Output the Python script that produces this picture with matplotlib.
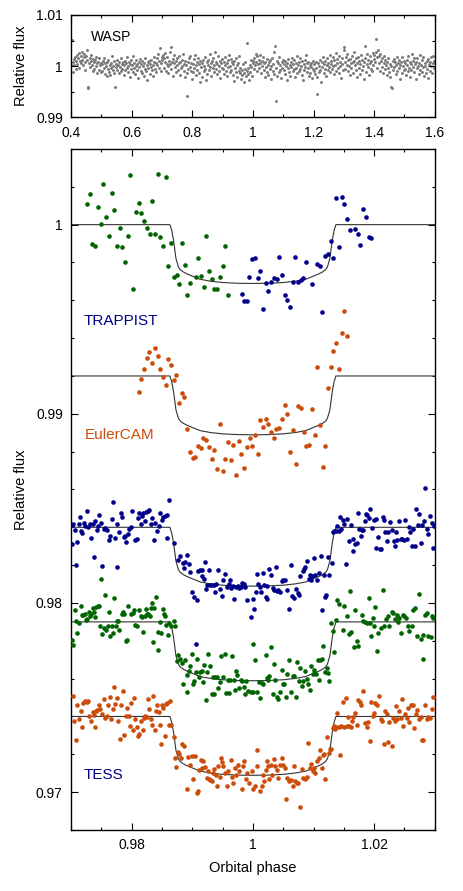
import matplotlib.pyplot as plt
import numpy as np
from matplotlib.ticker import FuncFormatter

plt.rcParams["font.family"] = ["Liberation Sans", "DejaVu Sans"]

# ---- WASP panel: phase and flux deviation (units of 1e-4) ----
wasp_phase = [
    0.401, 0.403, 0.405, 0.407, 0.409, 0.411, 0.413, 0.415, 0.417, 0.419, 0.421, 0.423, 0.425, 0.427, 0.429, 0.431, 0.433, 0.435, 0.437, 0.439, 0.441, 0.443, 0.445, 0.447, 0.449, 0.451, 0.453, 0.455, 0.457, 0.459, 0.461, 0.463, 0.465, 0.467, 0.469, 0.471, 0.473, 0.475, 0.477, 0.479, 0.481, 0.483, 0.485, 0.487, 0.489, 0.491, 0.493, 0.495, 0.497, 0.499,
    0.501, 0.503, 0.505, 0.507, 0.509, 0.511, 0.513, 0.515, 0.517, 0.519, 0.521, 0.523, 0.525, 0.527, 0.529, 0.531, 0.533, 0.535, 0.537, 0.539, 0.541, 0.543, 0.545, 0.547, 0.549, 0.551, 0.553, 0.555, 0.557, 0.559, 0.561, 0.563, 0.565, 0.567, 0.569, 0.571, 0.573, 0.575, 0.577, 0.579, 0.581, 0.583, 0.585, 0.587, 0.589, 0.591, 0.593, 0.595, 0.597, 0.599,
    0.601, 0.603, 0.605, 0.607, 0.609, 0.611, 0.613, 0.615, 0.617, 0.619, 0.621, 0.623, 0.625, 0.627, 0.629, 0.631, 0.633, 0.635, 0.637, 0.639, 0.641, 0.643, 0.645, 0.647, 0.649, 0.651, 0.653, 0.655, 0.657, 0.659, 0.661, 0.663, 0.665, 0.667, 0.669, 0.671, 0.673, 0.675, 0.677, 0.679, 0.681, 0.683, 0.685, 0.687, 0.689, 0.691, 0.693, 0.695, 0.697, 0.699,
    0.701, 0.703, 0.705, 0.707, 0.709, 0.711, 0.713, 0.715, 0.717, 0.719, 0.721, 0.723, 0.725, 0.727, 0.729, 0.731, 0.733, 0.735, 0.737, 0.739, 0.741, 0.743, 0.745, 0.747, 0.749, 0.751, 0.753, 0.755, 0.757, 0.759, 0.761, 0.763, 0.765, 0.767, 0.769, 0.771, 0.773, 0.775, 0.777, 0.779, 0.781, 0.783, 0.785, 0.787, 0.789, 0.791, 0.793, 0.795, 0.797, 0.799,
    0.801, 0.803, 0.805, 0.807, 0.809, 0.811, 0.813, 0.815, 0.817, 0.819, 0.821, 0.823, 0.825, 0.827, 0.829, 0.831, 0.833, 0.835, 0.837, 0.839, 0.841, 0.843, 0.845, 0.847, 0.849, 0.851, 0.853, 0.855, 0.857, 0.859, 0.861, 0.863, 0.865, 0.867, 0.869, 0.871, 0.873, 0.875, 0.877, 0.879, 0.881, 0.883, 0.885, 0.887, 0.889, 0.891, 0.893, 0.895, 0.897, 0.899,
    0.901, 0.903, 0.905, 0.907, 0.909, 0.911, 0.913, 0.915, 0.917, 0.919, 0.921, 0.923, 0.925, 0.927, 0.929, 0.931, 0.933, 0.935, 0.937, 0.939, 0.941, 0.943, 0.945, 0.947, 0.949, 0.951, 0.953, 0.955, 0.957, 0.959, 0.961, 0.963, 0.965, 0.967, 0.969, 0.971, 0.973, 0.975, 0.977, 0.979, 0.981, 0.983, 0.985, 0.987, 0.989, 0.991, 0.993, 0.995, 0.997, 0.999,
    1.001, 1.003, 1.005, 1.007, 1.009, 1.011, 1.013, 1.015, 1.017, 1.019, 1.021, 1.023, 1.025, 1.027, 1.029, 1.031, 1.033, 1.035, 1.037, 1.039, 1.041, 1.043, 1.045, 1.047, 1.049, 1.051, 1.053, 1.055, 1.057, 1.059, 1.061, 1.063, 1.065, 1.067, 1.069, 1.071, 1.073, 1.075, 1.077, 1.079, 1.081, 1.083, 1.085, 1.087, 1.089, 1.091, 1.093, 1.095, 1.097, 1.099,
    1.101, 1.103, 1.105, 1.107, 1.109, 1.111, 1.113, 1.115, 1.117, 1.119, 1.121, 1.123, 1.125, 1.127, 1.129, 1.131, 1.133, 1.135, 1.137, 1.139, 1.141, 1.143, 1.145, 1.147, 1.149, 1.151, 1.153, 1.155, 1.157, 1.159, 1.161, 1.163, 1.165, 1.167, 1.169, 1.171, 1.173, 1.175, 1.177, 1.179, 1.181, 1.183, 1.185, 1.187, 1.189, 1.191, 1.193, 1.195, 1.197, 1.199,
    1.201, 1.203, 1.205, 1.207, 1.209, 1.211, 1.213, 1.215, 1.217, 1.219, 1.221, 1.223, 1.225, 1.227, 1.229, 1.231, 1.233, 1.235, 1.237, 1.239, 1.241, 1.243, 1.245, 1.247, 1.249, 1.251, 1.253, 1.255, 1.257, 1.259, 1.261, 1.263, 1.265, 1.267, 1.269, 1.271, 1.273, 1.275, 1.277, 1.279, 1.281, 1.283, 1.285, 1.287, 1.289, 1.291, 1.293, 1.295, 1.297, 1.299,
    1.301, 1.303, 1.305, 1.307, 1.309, 1.311, 1.313, 1.315, 1.317, 1.319, 1.321, 1.323, 1.325, 1.327, 1.329, 1.331, 1.333, 1.335, 1.337, 1.339, 1.341, 1.343, 1.345, 1.347, 1.349, 1.351, 1.353, 1.355, 1.357, 1.359, 1.361, 1.363, 1.365, 1.367, 1.369, 1.371, 1.373, 1.375, 1.377, 1.379, 1.381, 1.383, 1.385, 1.387, 1.389, 1.391, 1.393, 1.395, 1.397, 1.399,
    1.401, 1.403, 1.405, 1.407, 1.409, 1.411, 1.413, 1.415, 1.417, 1.419, 1.421, 1.423, 1.425, 1.427, 1.429, 1.431, 1.433, 1.435, 1.437, 1.439, 1.441, 1.443, 1.445, 1.447, 1.449, 1.451, 1.453, 1.455, 1.457, 1.459, 1.461, 1.463, 1.465, 1.467, 1.469, 1.471, 1.473, 1.475, 1.477, 1.479, 1.481, 1.483, 1.485, 1.487, 1.489, 1.491, 1.493, 1.495, 1.497, 1.499,
    1.501, 1.503, 1.505, 1.507, 1.509, 1.511, 1.513, 1.515, 1.517, 1.519, 1.521, 1.523, 1.525, 1.527, 1.529, 1.531, 1.533, 1.535, 1.537, 1.539, 1.541, 1.543, 1.545, 1.547, 1.549, 1.551, 1.553, 1.555, 1.557, 1.559, 1.561, 1.563, 1.565, 1.567, 1.569, 1.571, 1.573, 1.575, 1.577, 1.579, 1.581, 1.583, 1.585, 1.587, 1.589, 1.591, 1.593, 1.595, 1.597, 1.599,
]
wasp_dflux = [
    3, 51, -12, 8, 14, 2, 18, -6, 10, 22, 5, 15, -3, 25, 11, 19, 7, 28, 13, 2, 17, 24, 9, -8, 20, 12, 31, -42, -40, 6, 16, -2, 10, 21, 3, -10, 14, 8, -5, 12, 1, 18, -14, 6, 9, -7, 15, 3, -12, 7,
    4, -9, 11, -3, 16, -15, 6, 0, -20, 9, -6, 13, -11, 2, -17, 7, -4, 19, -8, 1, 10, -13, -41, 5, -2, 12, -7, 3, -14, 8, -1, 15, -10, 4, -5, 9, -18, 2, 11, -8, 6, -3, 17, -12, 0, 8, -22, 5, 13, -6,
    3, -11, 20, -4, 7, -16, 1, 12, -7, 5, -24, 9, -2, 14, -9, 4, -13, 10, 0, -19, 6, -5, 16, -10, 2, -27, 8, -3, 11, -15, 5, -1, 13, -8, 3, -20, 9, 18, -6, 7, -12, 15, 2, 23, -4, 10, 36, 6, -9, 17,
    12, 21, -3, 15, 8, 25, -10, 5, 18, 1, -14, 11, 27, 4, -6, 37, 9, 14, -20, 7, 22, -2, 10, -12, 16, 3, -8, 19, 6, -17, 9, -4, 13, 0, 24, -9, 5, -22, 11, 2, -13, -58, 8, -5, 15, -1, 20, -10, 6, -26,
    5, -12, 14, -3, 21, 2, -18, 9, -7, 16, -14, 4, -30, 11, -2, 7, -22, 13, -9, 1, 18, -5, -28, 8, -15, 3, 12, -8, 23, -1, 6, -19, 10, -4, 15, -11, 2, 27, -6, 9, -16, 4, 19, -9, 0, 11, -24, 7, -3, 14,
    -6, 9, -15, 3, 17, -9, 6, -20, 12, -2, 22, -11, 1, 14, -7, 8, -17, 4, -29, 10, -4, 15, -12, 2, -22, 7, -9, 19, -14, -3, -25, -8, -18, 5, -13, -30, -6, 9, -20, -10, 45, -16, -4, -27, 3, -11, 12, -1, -19, 7,
    10, -5, 16, 2, 24, 8, -10, 19, 4, 13, -3, 21, 7, -14, 11, 1, 17, -8, 6, -21, 9, -2, 14, -12, 3, -17, 8, -6, 12, -25, 0, 15, -9, 5, -15, 27, 39, -68, -4, 10, -19, 6, -11, 18, -7, 2, -23, 9, -3, 13,
    -8, 5, -16, 11, 0, -27, 7, -4, 14, -12, 3, -19, 9, -1, 16, -10, 4, -6, 12, -22, 6, -3, 20, -14, 2, 8, -9, 15, -5, 1, -17, 10, -28, 4, -7, 13, -2, 22, -11, 6, -4, 9, -20, 3, -13, 7, -1, -24, 11, -6,
    -9, 4, -15, 8, -3, -55, -21, 6, -11, 1, 13, -7, -30, 9, -2, 17, -13, 5, -5, 11, -19, 2, 16, -8, 7, -1, 21, -12, 4, 10, -6, 18, 0, -16, 12, 3, 25, -9, 6, 14, -4, 20, -14, 8, 1, -23, 15, 5, -7, 31,
    38, 9, -6, 17, 3, 24, -10, 12, 1, -18, 14, 6, -4, 20, 8, -13, 11, 27, 2, -8, 15, -21, 7, 18, -3, 10, -15, 4, 22, -7, 13, 0, -26, 9, 40, 16, -11, 5, 23, -2, 12, -17, 7, 19, -5, 10, -9, 26, 3, 14,
    21, 8, 53, 28, -4, 17, 32, 6, 19, -9, 24, 11, -2, 15, -14, 7, 20, -6, 12, 2, -18, 9, -3, 16, -11, 5, -22, 1, -40, -43, 10, -7, 14, -1, 8, -16, 3, 18, -9, 6, -4, 12, -25, 2, 9, -13, 17, 0, -8, 11,
    -5, 7, -17, 13, 2, -10, 19, -3, 8, -21, 5, -7, 24, 10, -1, 15, -12, 4, -26, 9, -4, 16, 1, -15, 6, -8, 21, 3, -11, 12, -2, 18, -19, 7, 0, -14, 11, -6, 14, -23, 4, 9, -9, 17, 1, -13, 6, 20, -4, 10,
]

# ---- transit model (flux change in ppm) ----
model_phase = [0.9700, 0.9863, 0.9866, 0.9869, 0.9873, 0.9877, 0.9880, 0.9885, 0.9891, 0.9900,
               0.9913, 0.9930, 0.9950, 0.9975, 1.0000, 1.0025, 1.0050, 1.0070, 1.0087, 1.0100,
               1.0109, 1.0115, 1.0120, 1.0123, 1.0127, 1.0131, 1.0134, 1.0137, 1.0300]
model_ppm = [0, 0, -300, -820, -1790, -2230, -2380, -2500, -2600, -2720,
             -2890, -2990, -3060, -3100, -3110, -3100, -3060, -2990, -2890, -2720,
             -2600, -2500, -2380, -2230, -1790, -820, -300, 0, 0]

# vertical offsets of each light curve
offset_trappist = 0.0
offset_euler = -0.008
offset_blue = -0.016
offset_green = -0.021
offset_orange = -0.026

# ---- TRAPPIST, first night (green) ----
trap1_phase = [
    0.97268, 0.97312, 0.97350, 0.97394, 0.97444, 0.97493, 0.97532, 0.97581, 0.97625, 0.97669,
    0.97713, 0.97757, 0.97807, 0.97845, 0.97895, 0.97939, 0.97977, 0.98027, 0.98071, 0.98115,
    0.98159, 0.98209, 0.98247, 0.98297, 0.98341, 0.98385, 0.98429, 0.98473, 0.98517, 0.98561,
    0.98605, 0.98655, 0.98698, 0.98742, 0.98786, 0.98830, 0.98874, 0.98918, 0.98962, 0.99056,
    0.99099, 0.99143, 0.99187, 0.99231, 0.99275, 0.99319, 0.99363, 0.99407, 0.99451, 0.99501,
    0.99545, 0.99589,
]
trap1_ppm = [
    1100, 1610, -1030, -1130, 940, 60, 2160, 400, -590, 1650,
    800, -1150, -200, -1190, -2000, -620, 2650, -3420, 660, 1170,
    640, 200, -200, -480, 1240, -470, 2670, -640, -1120, 2540,
    -2160, -980, -2790, -2650, -3120, -960, -2120, -3700, -3110, -2750,
    -1750, -2740, -3300, -610, -2470, -2880, -3420, -3420, -2770, -2160,
    -1150, -3720,
]

# ---- TRAPPIST, second night (blue) ----
trap2_phase = [
    0.99815, 0.99848, 0.99908, 0.99941, 0.99985, 1.00035, 1.00079, 1.00117, 1.00167, 1.00211,
    1.00255, 1.00299, 1.00343, 1.00392, 1.00431, 1.00475, 1.00524, 1.00568, 1.00612, 1.00656,
    1.00700, 1.00744, 1.00788, 1.00832, 1.00876, 1.00975, 1.01058, 1.01102, 1.01146, 1.01190,
    1.01239, 1.01283, 1.01327, 1.01377, 1.01421, 1.01465, 1.01509, 1.01553, 1.01597, 1.01685,
    1.01729, 1.01773, 1.01823, 1.01867, 1.01911, 1.01955,
]
trap2_ppm = [
    -3670, -4040, -4060, -2790, -1790, -1750, -2810, -2460, -4480, -3070,
    -3530, -3020, -2810, -2860, -1730, -2650, -3740, -4000, -4370, -3040,
    -1720, -3050, -2930, -2810, -2000, -3160, -2070, -2210, -4620, -1660,
    -1540, -850, -1770, 1430, -1170, 1470, 1080, 310, -270, -220,
    -470, -1060, 840, 400, -640, -730,
]

# ---- EulerCAM ----
euler_phase = [
    0.98115, 0.98159, 0.98203, 0.98247, 0.98291, 0.98340, 0.98384, 0.98428, 0.98472, 0.98516,
    0.98560, 0.98604, 0.98648, 0.98692, 0.98736, 0.98780, 0.98824, 0.98868, 0.98912, 0.98961,
    0.99006, 0.99050, 0.99094, 0.99138, 0.99182, 0.99226, 0.99275, 0.99319, 0.99363, 0.99407,
    0.99451, 0.99501, 0.99539, 0.99583, 0.99633, 0.99677, 0.99721, 0.99765, 0.99809, 0.99853,
    0.99903, 0.99947, 0.99991, 1.00035, 1.00079, 1.00123, 1.00167, 1.00211, 1.00255, 1.00299,
    1.00343, 1.00387, 1.00431, 1.00480, 1.00524, 1.00568, 1.00612, 1.00656, 1.00706, 1.00750,
    1.00794, 1.00838, 1.00882, 1.00926, 1.00975, 1.01019, 1.01063, 1.01107, 1.01151, 1.01195,
    1.01239, 1.01283, 1.01327, 1.01371, 1.01421, 1.01465, 1.01509, 1.01553,
]
euler_ppm = [
    -840, -140, 370, 970, 1250, 670, 1480, 1060, 370, -40,
    -490, 880, 580, -210, 50, -1430, -920, -1090, -2820, -4000,
    -4310, -4280, -3710, -3800, -3290, -3380, -3770, -4400, -3910, -4910,
    -2520, -5020, -4380, -3500, -4450, -3630, -5260, -3430, -4100, -4870,
    -3770, -3260, -3700, -3130, -4100, -2320, -2690, -2250, -2530, -2960,
    -3290, -2780, -2730, -2250, -1550, -2010, -4000, -2870, -4660, -1570,
    -1670, -2960, -3700, -3640, -1740, -3130, 460, -2600, -4790, -3700,
    -630, 460, 1320, 1740, 350, 2250, 3420, 2130,
]

# ---- full-phase light curve, blue ----
blue_phase = [
    0.97022, 0.97039, 0.97017, 0.97061, 0.97088, 0.97105, 0.97127, 0.97143, 0.97160, 0.97187,
    0.97209, 0.97237, 0.97264, 0.97286, 0.97308, 0.97336, 0.97358, 0.97374, 0.97396, 0.97424,
    0.97440, 0.97462, 0.97495, 0.97517, 0.97539, 0.97567, 0.97594, 0.97622, 0.97644, 0.97671,
    0.97693, 0.97726, 0.97754, 0.97765, 0.97798, 0.97820, 0.97847, 0.97869, 0.97897, 0.97913,
    0.97941, 0.97957, 0.97985, 0.98001, 0.98051, 0.98084, 0.98106, 0.98128, 0.98150, 0.98172,
    0.98194, 0.98216, 0.98238, 0.98265, 0.98287, 0.98315, 0.98342, 0.98364, 0.98392, 0.98425,
    0.98447, 0.98474, 0.98496, 0.98524, 0.98557, 0.98579, 0.98612, 0.98590, 0.98700, 0.98766,
    0.98793, 0.98843, 0.98865, 0.98887, 0.98920, 0.98942, 0.98964, 0.98997, 0.99024, 0.99057,
    0.99079, 0.99096, 0.99129, 0.99156, 0.99160, 0.99189, 0.99206, 0.99233, 0.99250, 0.99272,
    0.99288, 0.99327, 0.99354, 0.99371, 0.99393, 0.99420, 0.99453, 0.99492, 0.99514, 0.99536,
    0.99569, 0.99602, 0.99629, 0.99646, 0.99679, 0.99695, 0.99728, 0.99750, 0.99778, 0.99800,
    0.99827, 0.99849, 0.99877, 0.99904, 0.99976, 0.99998, 1.00024, 1.00046, 1.00062, 1.00084,
    1.00112, 1.00133, 1.00166, 1.00177, 1.00210, 1.00227, 1.00238, 1.00271, 1.00293, 1.00326,
    1.00348, 1.00381, 1.00392, 1.00419, 1.00447, 1.00474, 1.00502, 1.00524, 1.00557, 1.00596,
    1.00628, 1.00650, 1.00672, 1.00705, 1.00738, 1.00760, 1.00782, 1.00821, 1.00843, 1.00859,
    1.00887, 1.00920, 1.00936, 1.00958, 1.00970, 1.01008, 1.01030, 1.01058, 1.01085, 1.01118,
    1.01140, 1.01173, 1.01190, 1.01212, 1.01239, 1.01261, 1.01300, 1.01316, 1.01338, 1.01371,
    1.01393, 1.01415, 1.01437, 1.01459, 1.01487, 1.01508, 1.01536, 1.01558, 1.01591, 1.01624,
    1.01646, 1.01657, 1.01690, 1.01712, 1.01729, 1.01751, 1.01783, 1.01805, 1.01822, 1.01849,
    1.01871, 1.01888, 1.01910, 1.01937, 1.01965, 1.01998, 1.02025, 1.02036, 1.02069, 1.02091,
    1.02113, 1.02141, 1.02157, 1.02185, 1.02212, 1.02234, 1.02267, 1.02289, 1.02322, 1.02339,
    1.02355, 1.02377, 1.02410, 1.02438, 1.02465, 1.02493, 1.02515, 1.02542, 1.02570, 1.02597,
    1.02625, 1.02647, 1.02674, 1.02696, 1.02724, 1.02746, 1.02768, 1.02790, 1.02817, 1.02845,
    1.02867, 1.02894, 1.02922, 1.02949, 1.02971, 1.02988,
]
blue_ppm = [
    130, 170, -870, -150, -1980, -800, 190, 570, -220, -310,
    220, 50, 840, 0, 150, -570, 190, -1560, 310, -130,
    50, 660, 220, -2030, -80, -40, -130, -690, -450, 450,
    1330, -540, 190, -2120, -250, 750, 570, -520, -480, -800,
    -360, -100, -10, 840, -660, -620, 490, 750, 150, 610,
    750, 310, 800, 840, 890, 190, 490, -690, 220, -220,
    50, 750, 360, 540, 610, 640, 1450, -590, -830, -1710,
    -1500, -1890, -2140, -1840, -1490, -1930, -2350, -3440, -3680, -6150,
    -3860, -2300, -2260, -2260, -2590, -2730, -1840, -3260, -3030, -2280,
    -3050, -3050, -3030, -3420, -3000, -2280, -3260, -3650, -2770, -2460,
    -3140, -2980, -2770, -3190, -3120, -3770, -3160, -3120, -3210, -3160,
    -2950, -3000, -3160, -3860, -4740, -3790, -4300, -3420, -2490, -3000,
    -3160, -3420, -2390, -3070, -3680, -3090, -3770, -2180, -2530, -3190,
    -3300, -2100, -3370, -3300, -3440, -2860, -2770, -2810, -3330, -4300,
    -2010, -3650, -3750, -3240, -3470, -3600, -2590, -2330, -2210, -2100,
    -1800, -2720, -2540, -2770, -2590, -1640, -2510, -2770, -2420, -1520,
    -4350, -2540, -3700, -3580, -1580, -2540, -1890, -260, -220, -220,
    80, -170, 570, -100, 360, 190, -1940, 430, -710, 130,
    -620, -1270, -890, -840, 750, -100, -450, -130, -130, 340,
    710, 660, 480, 980, -40, 400, 430, -1100, -520, -1130,
    -1130, 540, 400, -260, -750, -270, 260, -130, -710, -980,
    -270, -660, 340, -620, -620, -660, 400, -620, 0, -270,
    -1010, -80, -980, 960, 100, 710, -840, 110, 340, 2070,
    -80, -340, 610, 220, -1100, 80,
]

# ---- full-phase light curve, green ----
green_phase = [
    0.97022, 0.97033, 0.97072, 0.97088, 0.97105, 0.97132, 0.97160, 0.97182, 0.97204, 0.97226,
    0.97248, 0.97270, 0.97292, 0.97314, 0.97336, 0.97358, 0.97374, 0.97396, 0.97413, 0.97440,
    0.97468, 0.97473, 0.97501, 0.97517, 0.97539, 0.97567, 0.97583, 0.97605, 0.97627, 0.97644,
    0.97671, 0.97699, 0.97715, 0.97737, 0.97759, 0.97781, 0.97798, 0.97842, 0.97864, 0.97880,
    0.97908, 0.97930, 0.97946, 0.97985, 0.98018, 0.98040, 0.98062, 0.98095, 0.98128, 0.98150,
    0.98172, 0.98194, 0.98216, 0.98232, 0.98254, 0.98276, 0.98298, 0.98326, 0.98342, 0.98359,
    0.98375, 0.98408, 0.98441, 0.98469, 0.98485, 0.98513, 0.98529, 0.98546, 0.98568, 0.98595,
    0.98617, 0.98656, 0.98694, 0.98711, 0.98430, 0.98744, 0.98766, 0.98798, 0.98832, 0.98854,
    0.98881, 0.98909, 0.98914, 0.98947, 0.98964, 0.99002, 0.99019, 0.99035, 0.99063, 0.99085,
    0.99107, 0.99129, 0.99156, 0.99184, 0.99200, 0.99222, 0.99239, 0.99266, 0.99294, 0.99321,
    0.99338, 0.99360, 0.99371, 0.99404, 0.99431, 0.99456, 0.99480, 0.99514, 0.99541, 0.99558,
    0.99585, 0.99613, 0.99624, 0.99662, 0.99684, 0.99706, 0.99728, 0.99745, 0.99778, 0.99800,
    0.99827, 0.99849, 0.99871, 0.99893, 0.99926, 0.99965, 0.99998, 1.00007, 1.00035, 1.00062,
    1.00101, 1.00117, 1.00145, 1.00172, 1.00211, 1.00227, 1.00254, 1.00271, 1.00293, 1.00326,
    1.00348, 1.00370, 1.00392, 1.00419, 1.00447, 1.00474, 1.00502, 1.00519, 1.00546, 1.00568,
    1.00601, 1.00634, 1.00656, 1.00678, 1.00705, 1.00722, 1.00755, 1.00777, 1.00810, 1.00832,
    1.00859, 1.00887, 1.00909, 1.00937, 1.00959, 1.00986, 1.01014, 1.01041, 1.01068, 1.01091,
    1.01107, 1.01134, 1.01151, 1.01184, 1.01217, 1.01239, 1.01261, 1.01289, 1.01316, 1.01332,
    1.01376, 1.01393, 1.01426, 1.01481, 1.01503, 1.01547, 1.01580, 1.01602, 1.01613, 1.01668,
    1.01685, 1.01723, 1.01740, 1.01800, 1.01822, 1.01849, 1.01877, 1.01910, 1.01932, 1.01954,
    1.01976, 1.01998, 1.02020, 1.02042, 1.02069, 1.02108, 1.02141, 1.02168, 1.02196, 1.02223,
    1.02251, 1.02289, 1.02317, 1.02344, 1.02372, 1.02394, 1.02416, 1.02443, 1.02471, 1.02498,
    1.02526, 1.02553, 1.02581, 1.02619, 1.02647, 1.02674, 1.02702, 1.02746, 1.02768, 1.02801,
    1.02812, 1.02839, 1.02867, 1.02894, 1.02933, 1.02955, 1.02977,
]
green_ppm = [
    -940, -1240, 650, 30, -590, -60, 820, 380, 380, 430,
    100, 170, 510, 290, 430, 730, 510, 260, 770, 820,
    860, -230, 2260, -620, -340, 1400, -410, -230, 510, -760,
    -200, -590, 1260, -230, 30, 70, -450, 400, 510, 420,
    -1030, -940, 860, 400, 470, 610, -180, -200, 650, 290,
    260, -550, 290, 700, 430, 420, 330, 730, 980, -1080,
    730, 1310, -520, -20, -590, 680, 430, 290, -180, -670,
    -60, -230, 30, -230, -1470, -2080, -1730, -1940, -2170, -3310,
    -1990, -2790, -3720, -2580, -2350, -1690, -3310, -3140, -2660, -1940,
    -2910, -2660, -2610, -3190, -2260, -4110, -2640, -1680, -2350, -3810,
    -2910, -3810, -2910, -2910, -3490, -3190, -1780, -2910, -1680, -3750,
    -3050, -3750, -3050, -1820, -3050, -3580, -2610, -2790, -3490, -3050,
    -3100, -3450, -3790, -3140, -3670, -3710, -3710, -1170, -2030, -3720,
    -3190, -4020, -3230, -3310, -1760, -2960, -3050, -2840, -1330, -3810,
    -2220, -3050, -3970, -4080, -3720, -2520, -3310, -3310, -3970, -2750,
    -2000, -3720, -2840, -2870, -3970, -2130, -3140, -2430, -3370, -3140,
    -2610, -3010, -3310, -3580, -2310, -2780, -2520, -2780, -2030, -3050,
    -2000, -1960, -1290, -2660, -2430, -2700, -3140, -60, -500, -1610,
    120, 1170, 960, -450, 820, 290, -620, 1610, -550, -1330,
    610, -1030, -1290, 380, 30, -20, -60, 1260, -60, -760,
    210, -230, 770, -1520, -590, -320, 1660, -230, 150, 290,
    -230, 510, 470, 150, 380, -20, 210, -590, 380, 330,
    210, -230, -500, -230, 650, 730, -760, 1450, -900, -670,
    -1960, 380, 470, -760, -800, 290, 210,
]

# ---- full-phase light curve, orange ----
orange_phase = [
    0.97039, 0.97055, 0.97083, 0.97105, 0.97132, 0.97160, 0.97187, 0.97204, 0.97231, 0.97259,
    0.97286, 0.97303, 0.97330, 0.97358, 0.97374, 0.97391, 0.97413, 0.97435, 0.97468, 0.97484,
    0.97512, 0.97539, 0.97567, 0.97589, 0.97611, 0.97644, 0.97666, 0.97688, 0.97715, 0.97732,
    0.97759, 0.97781, 0.97809, 0.97825, 0.97853, 0.97875, 0.97902, 0.97930, 0.97952, 0.97974,
    0.97996, 0.98018, 0.98040, 0.98062, 0.98084, 0.98111, 0.98128, 0.98155, 0.98183, 0.98205,
    0.98227, 0.98249, 0.98271, 0.98293, 0.98315, 0.98331, 0.98359, 0.98386, 0.98408, 0.98425,
    0.98447, 0.98469, 0.98485, 0.98507, 0.98524, 0.98551, 0.98568, 0.98590, 0.98612, 0.98634,
    0.98650, 0.98700, 0.98716, 0.98738, 0.98760, 0.98788, 0.98810, 0.98837, 0.98870, 0.98909,
    0.98936, 0.98969, 0.98991, 0.99019, 0.99046, 0.99074, 0.99096, 0.99118, 0.99145, 0.99167,
    0.99184, 0.99211, 0.99239, 0.99261, 0.99277, 0.99299, 0.99321, 0.99338, 0.99360, 0.99387,
    0.99404, 0.99431, 0.99459, 0.99475, 0.99497, 0.99514, 0.99541, 0.99569, 0.99596, 0.99635,
    0.99651, 0.99679, 0.99701, 0.99728, 0.99750, 0.99772, 0.99816, 0.99833, 0.99860, 0.99882,
    0.99909, 0.99943, 0.99981, 0.99996, 1.00035, 1.00062, 1.00073, 1.00117, 1.00145, 1.00172,
    1.00183, 1.00216, 1.00227, 1.00254, 1.00271, 1.00293, 1.00315, 1.00348, 1.00370, 1.00392,
    1.00419, 1.00447, 1.00480, 1.00502, 1.00524, 1.00546, 1.00568, 1.00601, 1.00634, 1.00656,
    1.00678, 1.00700, 1.00722, 1.00749, 1.00771, 1.00804, 1.00832, 1.00859, 1.00887, 1.00909,
    1.00942, 1.00964, 1.00986, 1.01008, 1.01030, 1.01063, 1.01085, 1.01107, 1.01134, 1.01151,
    1.01173, 1.01195, 1.01228, 1.01250, 1.01272, 1.01294, 1.01316, 1.01332, 1.01349, 1.01371,
    1.01393, 1.01415, 1.01437, 1.01454, 1.01481, 1.01503, 1.01531, 1.01547, 1.01563, 1.01591,
    1.01613, 1.01640, 1.01657, 1.01690, 1.01712, 1.01739, 1.01762, 1.01783, 1.01822, 1.01849,
    1.01877, 1.01904, 1.01932, 1.01954, 1.01976, 1.01998, 1.02020, 1.02047, 1.02075, 1.02108,
    1.02130, 1.02163, 1.02179, 1.02207, 1.02234, 1.02251, 1.02289, 1.02317, 1.02339, 1.02361,
    1.02383, 1.02410, 1.02438, 1.02465, 1.02482, 1.02509, 1.02537, 1.02559, 1.02581, 1.02608,
    1.02636, 1.02663, 1.02685, 1.02713, 1.02740, 1.02768, 1.02796, 1.02812, 1.02839, 1.02867,
    1.02894, 1.02922, 1.02949, 1.02966,
]
orange_ppm = [
    1070, -250, -1220, 630, -110, 280, -550, 720, 810, 750,
    810, 50, -230, 230, 100, -550, 310, 330, 630, 370,
    150, 930, -70, 10, 630, 1020, -160, 370, 1540, 670,
    980, -250, -1180, 580, 1330, -960, 50, 450, 10, -480,
    720, -690, 980, -160, -550, -1040, -940, -220, -690, -70,
    10, -20, 930, 420, -130, -430, 1100, -730, 280, 580,
    220, -430, -1480, 630, 450, -1010, 670, 720, -430, 810,
    -460, -1080, -2190, -2660, -1890, -2010, -2190, -1480, -1540, -3860,
    -2130, -2540, -2100, -3300, -2100, -4030, -3940, -2840, -2280, -2710,
    -2360, -2660, -3240, -2890, -3300, -3360, -3420, -2980, -2800, -3070,
    -3680, -2620, -3190, -2190, -2420, -2620, -3010, -3680, -2890, -2280,
    -3190, -3500, -2710, -3070, -2540, -2890, -3820, -2620, -2360, -3330,
    -2980, -3500, -2890, -3860, -3650, -1750, -2630, -3940, -3680, -3070,
    -3420, -2850, -2360, -2630, -3330, -2540, -3070, -2270, -2630, -2840,
    -3240, -2540, -2190, -2590, -2710, -4350, -3240, -3420, -3360, -3680,
    -2630, -3420, -3500, -3500, -4770, -2770, -3240, -3330, -3190, -1400,
    -2710, -2490, -2890, -2710, -2980, -2360, -2190, -1750, -2710, -2060,
    -2010, -3290, -1080, -1920, -1710, -1710, -600, -520, -650, -550,
    190, -550, -2060, -520, 790, -550, 980, -480, -20, -480,
    -550, -250, -20, 190, -430, 860, 750, 630, 1330, -370,
    -550, -300, -1310, 750, 10, 190, 720, 580, 1070, -130,
    -250, -1440, 280, 150, -1360, -300, -1540, -70, -250, 540,
    -160, 280, -70, 930, -480, 150, -70, 450, -300, 630,
    580, -600, 150, 330, -160, -20, -1220, -1260, 630, -130,
    -20, -70, 400, 1030,
]

BLUE = "#00008b"
GREEN = "#006400"
ORANGE = "#cc4c0c"
MODEL = "#333333"


def to_flux(ppm, offset):
    return 1.0 + offset + np.array(ppm) * 1e-6


fmt = FuncFormatter(lambda v, pos: f"{v:g}")

fig = plt.figure(figsize=(4.63, 8.91), dpi=100)
ax_top = fig.add_axes([0.1536, 0.8683, 0.7853, 0.1149])
ax = fig.add_axes([0.1536, 0.0685, 0.7853, 0.7643])

# top panel: WASP
ax_top.scatter(wasp_phase, 1.0 + np.array(wasp_dflux) * 1e-4, s=4.5,
               color="#7a7a7a", linewidths=0)
ax_top.set_xlim(0.4, 1.6)
ax_top.set_ylim(0.99, 1.01)
ax_top.set_xticks([0.4, 0.6, 0.8, 1.0, 1.2, 1.4, 1.6])
ax_top.set_xticks(np.arange(0.4, 1.61, 0.1), minor=True)
ax_top.set_yticks([0.99, 1.0, 1.01])
ax_top.set_yticks([0.995, 1.005], minor=True)
ax_top.text(0.4656, 1.005, "WASP", fontsize=10, va="baseline")
ax_top.set_ylabel("Relative flux", fontsize=10.5)

# bottom panel: transits
curves = [
    (trap1_phase, trap1_ppm, offset_trappist, GREEN),
    (trap2_phase, trap2_ppm, offset_trappist, BLUE),
    (euler_phase, euler_ppm, offset_euler, ORANGE),
    (blue_phase, blue_ppm, offset_blue, BLUE),
    (green_phase, green_ppm, offset_green, GREEN),
    (orange_phase, orange_ppm, offset_orange, ORANGE),
]
for ph, ppm, off, col in curves:
    ax.scatter(ph, to_flux(ppm, off), s=11, color=col, linewidths=0, zorder=3)

for off in [offset_trappist, offset_euler, offset_blue, offset_green, offset_orange]:
    ax.plot(model_phase, to_flux(model_ppm, off), color=MODEL, lw=0.8, zorder=2)

ax.text(0.97213, 0.99468, "TRAPPIST", color=BLUE, fontsize=11, va="baseline")
ax.text(0.97229, 0.98867, "EulerCAM", color=ORANGE, fontsize=11, va="baseline")
ax.text(0.97213, 0.97067, "TESS", color=BLUE, fontsize=11, va="baseline")

ax.set_xlim(0.97, 1.03)
ax.set_ylim(0.968, 1.004)
ax.set_xticks([0.98, 1.0, 1.02])
ax.set_xticks(np.arange(0.97, 1.0301, 0.005), minor=True)
ax.set_yticks([0.97, 0.98, 0.99, 1.0])
ax.set_yticks(np.arange(0.968, 1.0041, 0.002), minor=True)
ax.set_xlabel("Orbital phase", fontsize=10.5)
ax.set_ylabel("Relative flux", fontsize=10.5)

for a in (ax_top, ax):
    a.xaxis.set_major_formatter(fmt)
    a.yaxis.set_major_formatter(fmt)
    a.tick_params(which="both", direction="in", top=True, right=True,
                  labelsize=10, width=0.8)
    a.tick_params(which="major", length=5, pad=6)
    a.tick_params(which="minor", length=2.5)
    for sp in a.spines.values():
        sp.set_linewidth(1.0)
    a.yaxis.set_label_coords(-0.118, 0.5)

ax.xaxis.set_label_coords(0.5, -0.045)

fig.savefig("out.png", dpi=100)
